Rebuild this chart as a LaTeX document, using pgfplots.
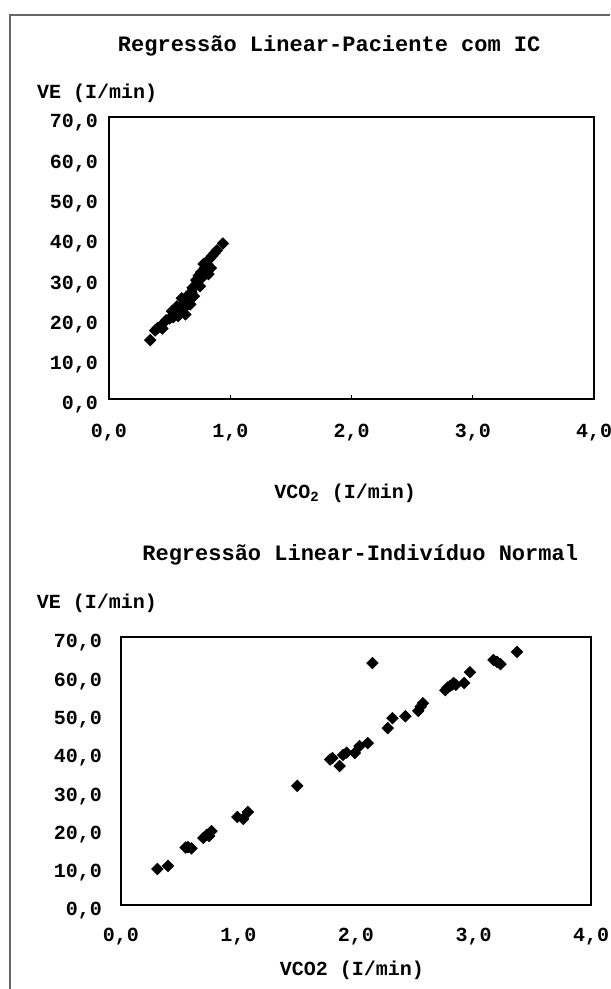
\documentclass[border=0pt]{standalone}
\usepackage{pgfplots}
\pgfplotsset{compat=1.18}
\usepackage{fontspec}
\setmainfont{Liberation Mono}

% shared look of both Excel-style scatter charts
\pgfplotsset{
  excelscatter/.style={
    scale only axis,
    anchor=south west,
    xmin=0, xmax=4, ymin=0, ymax=70,
    xtick={0,1,2,3,4},
    ytick={0,10,20,30,40,50,60,70},
    axis line style={black, line width=0.7pt},
    tick style={black, line width=0.4pt},
    major tick length=2pt,
    ytick style={draw=none},
    tick align=inside,
    xtick pos=bottom, ytick pos=left,
    font=\bfseries\fontsize{10}{12}\selectfont,
    /pgf/number format/fixed,
    /pgf/number format/fixed zerofill,
    /pgf/number format/precision=1,
    /pgf/number format/use comma,
    /pgf/number format/assume math mode=true,
    title style={font=\bfseries\fontsize{11}{13}\selectfont, anchor=center},
    xlabel style={anchor=center},
    ylabel style={rotate=-90, anchor=west},
    yticklabel style={yshift=-3pt},
  },
  pts/.style={only marks, black, mark=square*, mark size=2pt, mark options={black, rotate=45}},
}

\begin{document}
\begin{tikzpicture}
\useasboundingbox (0pt,0pt) rectangle (305pt,494.5pt);
% outer frame of the sheet
\draw[black!60, line width=0.75pt] (5pt,0pt) -- (5pt,487pt) -- (305pt,487pt);

% ---- heart-failure patient ----
\begin{axis}[excelscatter,
  at={(54.5pt,295pt)},
  width=242.5pt, height=141pt,
  title={Regressão Linear-Paciente com IC},
  title style={at={(rel axis cs:0.454,1.209)}},
  ylabel={VE (I/min)},
  ylabel style={at={(rel axis cs:-0.163,1.085)}},
  xlabel={VCO\textsubscript{2} (I/min)},
  xlabel style={at={(rel axis cs:0.487,-0.333)}},
  xticklabel style={yshift=-9pt},
  yticklabel style={xshift=-2pt},
]
\addplot[pts] coordinates {
 (0.34,14.6) (0.38,17.0) (0.40,17.6) (0.42,17.9) (0.44,17.5)
 (0.47,19.5) (0.50,20.0) (0.53,20.3) (0.55,21.0) (0.57,20.6)
 (0.58,22.5) (0.60,21.8) (0.61,23.3) (0.62,22.6) (0.64,24.5)
 (0.65,25.7) (0.66,24.8) (0.68,26.5) (0.69,27.6) (0.71,28.0)
 (0.72,29.5) (0.74,30.6) (0.73,29.0) (0.76,31.5) (0.78,30.5)
 (0.79,32.5) (0.81,33.4) (0.80,31.6) (0.83,34.8) (0.85,35.5)
 (0.87,36.2) (0.89,36.9) (0.94,38.6)
 (0.52,21.8) (0.56,23.0) (0.60,25.0) (0.63,21.0) (0.67,23.5)
 (0.70,25.5) (0.75,28.0) (0.82,31.0) (0.78,33.5) (0.84,32.5)
};
\end{axis}

% ---- normal subject ----
\begin{axis}[excelscatter,
  at={(60.5pt,42pt)},
  width=235pt, height=134pt,
  title={Regressão Linear-Indivíduo Normal},
  title style={at={(rel axis cs:0.509,1.261)}},
  ylabel={VE (I/min)},
  ylabel style={at={(rel axis cs:-0.194,1.127)}},
  xlabel={VCO2 (I/min)},
  xlabel style={at={(rel axis cs:0.491,-0.243)}},
  xticklabel style={yshift=-8pt},
  yticklabel style={xshift=-6pt},
  xtick style={draw=none},
]
\addplot[pts] coordinates {
 (0.31,9.4) (0.40,10.2) (0.55,15.0) (0.57,15.1) (0.60,14.8)
 (0.70,17.5) (0.73,18.3) (0.77,19.3) (0.75,18.0) (0.99,23.0)
 (1.04,22.5) (1.08,24.3) (1.50,31.1) (1.78,38.0) (1.80,38.4)
 (1.86,36.3) (1.89,39.2) (1.92,39.8) (1.99,39.7) (2.03,41.5)
 (2.10,42.3) (2.14,63.2) (2.27,46.2) (2.31,48.8) (2.42,49.3)
 (2.53,50.7) (2.57,52.7) (2.55,51.8) (2.76,56.1) (2.78,56.8)
 (2.80,57.2) (2.82,57.6) (2.83,58.0) (2.85,57.5) (2.92,58.0)
 (2.97,60.8) (3.17,64.0) (3.20,63.5) (3.23,62.9) (3.37,66.1)
};
\end{axis}
\end{tikzpicture}
\end{document}
